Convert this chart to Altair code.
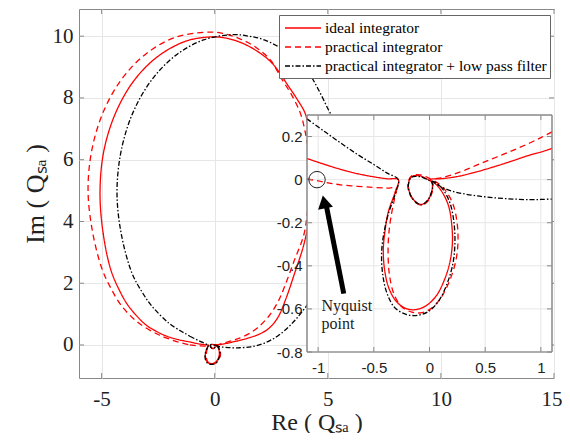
import altair as alt
import pandas as pd

SERIES = ["ideal integrator", "practical integrator",
          "practical integrator + low pass filter"]
COLORS = ["#ff0000", "#ff0000", "#000000"]
DASHES = [[1, 0], [6, 4], [5, 2, 1.5, 2]]

# ---- inset-range paths (left branch -> cusp -> big loop -> small loop -> right branch)
IDEAL_IN_X = [-1.1, -0.95, -0.8, -0.65, -0.5, -0.38, -0.28,
              -0.31, -0.37, -0.40, -0.415, -0.40, -0.36, -0.29, -0.2, -0.12, -0.03, 0.06, 0.13, 0.18, 0.205, 0.2, 0.17, 0.11, 0.05, 0.0,
              -0.09, -0.16, -0.19, -0.17, -0.12, -0.07, -0.015, 0.02, 0.025, 0.01,
              0.1, 0.2, 0.3, 0.45, 0.6, 0.75, 0.9, 1.0, 1.1]
IDEAL_IN_Y = [0.098, 0.072, 0.048, 0.028, 0.013, 0.004, 0.0,
              -0.06, -0.15, -0.24, -0.33, -0.43, -0.51, -0.57, -0.6, -0.603, -0.585, -0.54, -0.47, -0.39, -0.3, -0.21, -0.12, -0.055, -0.018, -0.003,
              0.018, 0.014, -0.025, -0.07, -0.105, -0.115, -0.095, -0.055, -0.02, 0.0,
              0.004, 0.01, 0.02, 0.04, 0.063, 0.088, 0.114, 0.128, 0.145]

PRACT_IN_X = [-1.1, -1.0, -0.9, -0.8, -0.65, -0.5, -0.38, -0.3,
              -0.315, -0.345, -0.365, -0.372, -0.36, -0.32, -0.25, -0.16, -0.08, 0.01, 0.1, 0.18, 0.235, 0.255, 0.25, 0.215, 0.15, 0.08, 0.02,
              -0.08, -0.16, -0.195, -0.175, -0.12, -0.065, -0.01, 0.025, 0.03, 0.03,
              0.1, 0.2, 0.3, 0.45, 0.6, 0.75, 0.9, 1.0, 1.1]
PRACT_IN_Y = [0.003, -0.006, -0.016, -0.024, -0.031, -0.036, -0.039, -0.04,
              -0.09, -0.17, -0.25, -0.33, -0.44, -0.53, -0.59, -0.615, -0.618, -0.6, -0.55, -0.47, -0.38, -0.3, -0.21, -0.12, -0.055, -0.018, 0.0,
              0.022, 0.018, -0.02, -0.07, -0.108, -0.118, -0.097, -0.055, -0.02, 0.0,
              0.008, 0.022, 0.04, 0.073, 0.104, 0.136, 0.17, 0.195, 0.222]

LPF_IN_X = [-1.1, -0.95, -0.8, -0.65, -0.5, -0.38, -0.28,
            -0.31, -0.37, -0.41, -0.43, -0.42, -0.38, -0.31, -0.21, -0.11, -0.01, 0.08, 0.16, 0.21, 0.228, 0.22, 0.185, 0.12, 0.05, 0.0,
            -0.09, -0.165, -0.19, -0.165, -0.115, -0.07, -0.015, 0.02, 0.03, 0.02,
            0.1, 0.2, 0.3, 0.45, 0.6, 0.75, 0.9, 1.0, 1.1]
LPF_IN_Y = [0.282, 0.226, 0.171, 0.118, 0.07, 0.03, 0.0,
            -0.07, -0.16, -0.25, -0.34, -0.44, -0.53, -0.595, -0.625, -0.63, -0.612, -0.565, -0.48, -0.39, -0.3, -0.2, -0.11, -0.045, -0.012, -0.004,
            0.014, 0.01, -0.03, -0.078, -0.108, -0.117, -0.095, -0.055, -0.025, -0.008,
            -0.032, -0.053, -0.065, -0.077, -0.085, -0.09, -0.093, -0.092, -0.09]

# ---- outer contours (from the right end of the inset path, around, back to its left start)
IDEAL_OUT_X = [1.6, 2.0, 2.4, 2.8, 3.15, 3.5, 3.94, 4.2, 4.32, 4.3, 4.15, 4.0, 3.65, 3.27, 2.53, 1.8, 1.06, 0.4,
               -0.3, -1.31, -2.54, -3.59, -4.39, -4.9, -5.07, -4.95, -4.6, -4.2, -3.8, -3.06, -2.6, -2.18, -1.6]
IDEAL_OUT_Y = [0.25, 0.36, 0.54, 0.9, 1.5, 2.25, 3.25, 4.2, 5.2, 6.2, 7.0, 7.5, 7.95, 8.37, 9.13, 9.55, 9.82, 9.95,
               9.97, 9.83, 9.33, 8.54, 7.5, 6.29, 5.0, 3.71, 2.45, 1.75, 1.25, 0.66, 0.45, 0.3, 0.17]

PRACT_OUT_X = [1.5, 1.9, 2.39, 2.8, 3.12, 3.5, 3.94, 4.1, 4.2, 4.15, 4.0, 3.79, 3.4, 2.98, 2.46, 1.8, 1.06, 0.3,
               -0.4, -1.75, -3.0, -4.08, -4.9, -5.42, -5.6, -5.42, -5.0, -4.6, -4.1, -3.36, -2.48, -2.0, -1.59]
PRACT_OUT_Y = [0.36, 0.56, 0.93, 1.4, 1.95, 2.7, 3.57, 4.3, 5.2, 6.2, 6.9, 7.5, 8.1, 8.59, 9.23, 9.65, 9.93, 10.1,
               10.13, 9.96, 9.45, 8.64, 7.59, 6.36, 5.05, 3.74, 2.5, 1.85, 1.25, 0.71, 0.33, 0.19, 0.09]

LPF_OUT_X = [1.6, 2.2, 2.8, 3.4, 3.94, 4.5, 5.0, 5.45, 5.8, 5.92, 5.75, 5.45, 5.04, 4.6, 4.16, 3.44, 2.19, 1.5, 0.85,
             -0.49, -1.74, -2.81, -3.63, -4.14, -4.32, -4.14, -3.66, -3.2, -2.77, -2.03, -1.5, -1.3]
LPF_OUT_Y = [-0.06, 0.06, 0.3, 0.68, 1.15, 1.75, 2.45, 3.35, 4.4, 5.4, 6.4, 7.05, 7.6, 8.25, 8.8, 9.37, 9.88, 10.0, 10.05,
             9.88, 9.37, 8.56, 7.5, 6.27, 4.95, 3.63, 2.33, 1.7, 1.25, 0.71, 0.45, 0.37]

# ---- axes / annotation values
MAIN_X_DOMAIN = [-6, 15]
MAIN_Y_DOMAIN = [-1.07, 10.88]
MAIN_X_TICKS = [-5, 0, 5, 10, 15]
MAIN_Y_TICKS = [0, 2, 4, 6, 8, 10]
INSET_X_DOMAIN = [-1.1, 1.1]
INSET_Y_DOMAIN = [-0.8, 0.3]
INSET_X_TICKS = [-1, -0.5, 0, 0.5, 1]
INSET_Y_TICKS = [-0.8, -0.6, -0.4, -0.2, 0, 0.2]
NYQUIST_POINT = [-1.01, 0.0]
ARROW_TAIL = [-0.77, -0.529]
ARROW_NECK = [-0.93, -0.112]
ARROW_HEAD = [-0.946, -0.103]
NOTE_X = [-0.97, -0.97]
NOTE_Y = [-0.586, -0.67]
NOTE_TEXT = ["Nyquist", "point"]

# layout inside the plot area (pixels)
W, H = 475, 369
INSET_RANGE_X = [228, 473]
INSET_RANGE_Y = [343, 106]
TICK_LEN = 5
FRAME = "#888"

SERIF = "Liberation Serif"
SANS = "Liberation Sans"
HYPHEN_LABEL = "replace(format(datum.value, '~g'), '\u2212', '-')"


def rows(name, xs, ys):
    return [{"series": name, "i": k, "x": x, "y": y} for k, (x, y) in enumerate(zip(xs, ys))]


def inner_ticks(xscale, yscale, xticks, yticks, xdom, ydom):
    """Inward-pointing tick marks on the four sides of a box, at the tick values."""
    h = TICK_LEN / 2
    layers = []
    for edge, off in [(ydom[0], -h), (ydom[1], h)]:
        layers.append(alt.Chart(pd.DataFrame({"v": xticks, "e": edge})).mark_tick(
            orient="vertical", size=TICK_LEN, thickness=1, color=FRAME, opacity=1, yOffset=off).encode(
            x=alt.X("v:Q", scale=xscale), y=alt.Y("e:Q", scale=yscale)))
    for edge, off in [(xdom[0], h), (xdom[1], -h)]:
        layers.append(alt.Chart(pd.DataFrame({"v": yticks, "e": edge})).mark_tick(
            orient="horizontal", size=TICK_LEN, thickness=1, color=FRAME, opacity=1, xOffset=off).encode(
            y=alt.Y("v:Q", scale=yscale), x=alt.X("e:Q", scale=xscale)))
    return layers


curves = [
    (SERIES[0], IDEAL_IN_X, IDEAL_IN_Y, IDEAL_OUT_X, IDEAL_OUT_Y),
    (SERIES[1], PRACT_IN_X, PRACT_IN_Y, PRACT_OUT_X, PRACT_OUT_Y),
    (SERIES[2], LPF_IN_X, LPF_IN_Y, LPF_OUT_X, LPF_OUT_Y),
]
main_frames, inset_frames = [], []
for name, ix, iy, ox, oy in curves:
    inset_frames.append(pd.DataFrame(rows(name, ix, iy)))
    main_frames.append(pd.DataFrame(rows(name, ix + ox + ix[:1], iy + oy + iy[:1])))

legend = alt.Legend(
    title=None, orient="none", legendX=200, legendY=6,
    fillColor="white", strokeColor="#666", padding=3,
    labelFont=SERIF, labelFontSize=15.5, labelColor="black", labelLimit=400,
    symbolType="M-2,0H2", symbolStrokeWidth=1.3, symbolSize=324,
    symbolOffset=11, labelOffset=12, rowPadding=-1,
)
color = alt.Color("series:N", scale=alt.Scale(domain=SERIES, range=COLORS), legend=legend)
dash = alt.StrokeDash("series:N", scale=alt.Scale(domain=SERIES, range=DASHES), legend=legend)

mx = alt.Scale(domain=MAIN_X_DOMAIN, nice=False, zero=False)
my = alt.Scale(domain=MAIN_Y_DOMAIN, nice=False, zero=False)
main_xaxis = alt.Axis(values=MAIN_X_TICKS, title="Re ( Qₛₐ )", grid=True, gridColor="#e6e6e6",
                      ticks=False, tickSize=0, domain=False, labelFont=SERIF, labelFontSize=21,
                      labelColor="#222", labelPadding=10, labelFlush=True, labelFlushOffset=8,
                      labelExpr=HYPHEN_LABEL,
                      titleFont=SERIF, titleFontSize=24, titleFontWeight="normal", titleColor="#222",
                      titleBaseline="alphabetic", titleY=51, zindex=0)
main_yaxis = alt.Axis(values=MAIN_Y_TICKS, title="Im ( Qₛₐ )", grid=True, gridColor="#e6e6e6",
                      ticks=False, tickSize=0, domain=False, labelFont=SERIF, labelFontSize=21,
                      labelColor="#222", labelPadding=6, titleFont=SERIF, titleFontSize=26,
                      titleFontWeight="normal", titleColor="#222", titlePadding=4, zindex=0)

main_layers = []
for df in main_frames:
    main_layers.append(
        alt.Chart(df).mark_line(strokeWidth=1.3, interpolate="catmull-rom").encode(
            x=alt.X("x:Q", scale=mx, axis=main_xaxis),
            y=alt.Y("y:Q", scale=my, axis=main_yaxis),
            color=color, strokeDash=dash, order="i:Q",
        )
    )
main_layers += inner_ticks(mx, my, MAIN_X_TICKS, MAIN_Y_TICKS, MAIN_X_DOMAIN, MAIN_Y_DOMAIN)
main = alt.layer(*main_layers)

ix_scale = alt.Scale(domain=INSET_X_DOMAIN, range=INSET_RANGE_X, nice=False, zero=False)
iy_scale = alt.Scale(domain=INSET_Y_DOMAIN, range=INSET_RANGE_Y, nice=False, zero=False)
inset_xaxis = alt.Axis(orient="bottom", offset=INSET_RANGE_Y[0] - H, values=INSET_X_TICKS,
                       labelExpr=HYPHEN_LABEL,
                       grid=False, ticks=False, tickSize=0, domain=False, title="", labelFlush=False,
                       labelFont=SANS, labelFontSize=15, labelColor="#222", labelPadding=8, zindex=1)
inset_yaxis = alt.Axis(orient="left", offset=-INSET_RANGE_X[0], values=INSET_Y_TICKS,
                       labelExpr=HYPHEN_LABEL,
                       grid=False, ticks=False, tickSize=0, domain=False, title="", labelFlush=False,
                       labelFont=SANS, labelFontSize=15, labelColor="#222", labelPadding=5, zindex=1)

box_df = pd.DataFrame({"x0": [INSET_X_DOMAIN[0]], "x1": [INSET_X_DOMAIN[1]],
                       "y0": [INSET_Y_DOMAIN[0]], "y1": [INSET_Y_DOMAIN[1]]})
box_fill = alt.Chart(box_df).mark_rect(fill="white", stroke=FRAME, strokeWidth=1).encode(
    x=alt.X("x0:Q", scale=ix_scale, axis=inset_xaxis), x2="x1",
    y=alt.Y("y0:Q", scale=iy_scale, axis=inset_yaxis), y2="y1",
)
vgrid_df = pd.DataFrame({"v": INSET_X_TICKS, "lo": INSET_Y_DOMAIN[0], "hi": INSET_Y_DOMAIN[1]})
hgrid_df = pd.DataFrame({"v": INSET_Y_TICKS, "lo": INSET_X_DOMAIN[0], "hi": INSET_X_DOMAIN[1]})
vgrid = alt.Chart(vgrid_df).mark_rule(color="#e6e6e6", strokeWidth=1).encode(
    x=alt.X("v:Q", scale=ix_scale), y=alt.Y("lo:Q", scale=iy_scale), y2="hi")
hgrid = alt.Chart(hgrid_df).mark_rule(color="#e6e6e6", strokeWidth=1).encode(
    y=alt.Y("v:Q", scale=iy_scale), x=alt.X("lo:Q", scale=ix_scale), x2="hi")

inset_lines = []
for df in inset_frames:
    inset_lines.append(
        alt.Chart(df).mark_line(strokeWidth=1.3, interpolate="catmull-rom").encode(
            x=alt.X("x:Q", scale=ix_scale),
            y=alt.Y("y:Q", scale=iy_scale),
            color=color, strokeDash=dash, order="i:Q",
        )
    )

box_edge = alt.Chart(box_df).mark_rect(fill="transparent", stroke=FRAME, strokeWidth=1).encode(
    x=alt.X("x0:Q", scale=ix_scale), x2="x1", y=alt.Y("y0:Q", scale=iy_scale), y2="y1")

nyq = alt.Chart(pd.DataFrame({"x": [NYQUIST_POINT[0]], "y": [NYQUIST_POINT[1]]})).mark_point(
    shape="circle", filled=False, size=270, color="#222", strokeWidth=1, opacity=1).encode(
    x=alt.X("x:Q", scale=ix_scale), y=alt.Y("y:Q", scale=iy_scale))

shaft = alt.Chart(pd.DataFrame({"x": [ARROW_TAIL[0]], "y": [ARROW_TAIL[1]],
                                "x2": [ARROW_NECK[0]], "y2": [ARROW_NECK[1]]})).mark_rule(
    color="black", strokeWidth=5).encode(
    x=alt.X("x:Q", scale=ix_scale), y=alt.Y("y:Q", scale=iy_scale), x2="x2", y2="y2")
head = alt.Chart(pd.DataFrame({"x": [ARROW_HEAD[0]], "y": [ARROW_HEAD[1]]})).mark_point(
    shape="triangle-up", filled=True, size=230, angle=348, color="black", opacity=1).encode(
    x=alt.X("x:Q", scale=ix_scale), y=alt.Y("y:Q", scale=iy_scale))

note = alt.Chart(pd.DataFrame({"x": NOTE_X, "y": NOTE_Y, "t": NOTE_TEXT})).mark_text(
    align="left", baseline="middle", font=SERIF, fontSize=16, color="#222").encode(
    x=alt.X("x:Q", scale=ix_scale), y=alt.Y("y:Q", scale=iy_scale), text="t:N")

inset_ticks = inner_ticks(ix_scale, iy_scale, INSET_X_TICKS, INSET_Y_TICKS, INSET_X_DOMAIN, INSET_Y_DOMAIN)
inset = alt.layer(box_fill, vgrid, hgrid, *inset_lines, box_edge, *inset_ticks, nyq, shaft, head, note)

chart = alt.layer(main, inset).resolve_scale(x="independent", y="independent").properties(
    width=W, height=H,
    padding={"left": 71, "top": 1, "right": 8, "bottom": 55},
    autosize=alt.AutoSizeParams(type="none"),
).configure_view(stroke=FRAME, strokeWidth=1).configure_legend(labelFont=SERIF)

chart.save("out.html", embed_options={"renderer": "svg", "actions": False})
